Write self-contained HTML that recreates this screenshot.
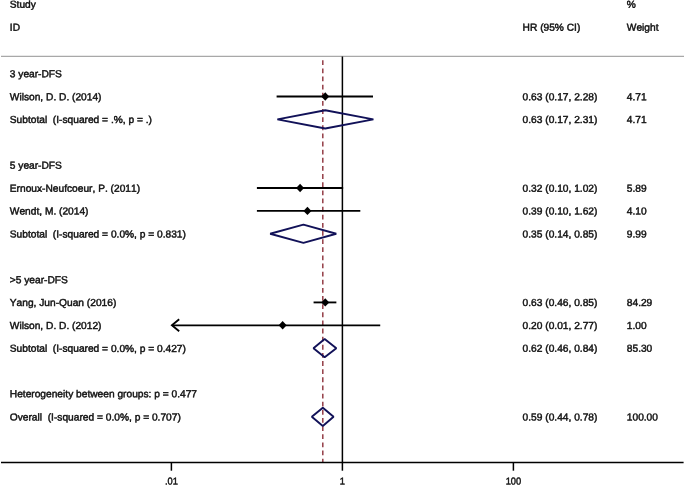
<!DOCTYPE html>
<html lang="en"><head><meta charset="utf-8"><title>Forest plot</title>
<style>
html,body{margin:0;padding:0;background:#fff;}
body{width:685px;height:486px;overflow:hidden;}
svg{display:block;}
svg text{font-family:"Liberation Sans",Arial,Helvetica,sans-serif;font-size:10.2px;fill:#111;stroke:#111;stroke-width:0.45px;font-kerning:none;white-space:pre;}
</style></head><body>
<svg width="685" height="486" viewBox="0 0 685 486">
<rect width="685" height="486" fill="#ffffff"/>
<line x1="1" y1="56.4" x2="684" y2="56.4" stroke="#a8a8a8" stroke-width="1.1"/>
<line x1="342.40" y1="56.4" x2="342.40" y2="462.50" stroke="#000" stroke-width="1.5"/>
<line x1="322.81" y1="60.3" x2="322.81" y2="462.50" stroke="#8c2f3a" stroke-width="1.4" stroke-dasharray="4.8 3.33"/>
<line x1="1" y1="462.50" x2="683.6" y2="462.50" stroke="#000" stroke-width="1.5"/>
<line x1="171.40" y1="462.50" x2="171.40" y2="470.70" stroke="#000" stroke-width="1.5"/>
<text transform="translate(171.40,484.6) rotate(0.03) scale(0.94,1)" x="0" y="0" text-anchor="middle" style="font-size:9.9px">.01</text>
<line x1="342.40" y1="462.50" x2="342.40" y2="470.70" stroke="#000" stroke-width="1.5"/>
<text transform="translate(342.40,484.6) rotate(0.03) scale(0.94,1)" x="0" y="0" text-anchor="middle" style="font-size:9.9px">1</text>
<line x1="513.40" y1="462.50" x2="513.40" y2="470.70" stroke="#000" stroke-width="1.5"/>
<text transform="translate(513.40,484.6) rotate(0.03) scale(0.94,1)" x="0" y="0" text-anchor="middle" style="font-size:9.9px">100</text>
<line x1="276.60" y1="96.50" x2="373.00" y2="96.50" stroke="#000" stroke-width="1.85"/>
<polygon points="321.24,96.50 325.24,92.30 329.24,96.50 325.24,100.70" fill="#000"/>
<line x1="256.90" y1="188.02" x2="343.14" y2="188.02" stroke="#000" stroke-width="1.85"/>
<polygon points="296.09,188.02 300.09,183.82 304.09,188.02 300.09,192.22" fill="#000"/>
<line x1="256.90" y1="210.90" x2="360.31" y2="210.90" stroke="#000" stroke-width="1.85"/>
<polygon points="303.44,210.90 307.44,206.70 311.44,210.90 307.44,215.10" fill="#000"/>
<line x1="313.57" y1="302.42" x2="336.37" y2="302.42" stroke="#000" stroke-width="1.85"/>
<polygon points="321.24,302.42 325.24,298.22 329.24,302.42 325.24,306.62" fill="#000"/>
<polyline points="179.20,319.30 171.90,325.30 179.20,331.30" fill="none" stroke="#000" stroke-width="1.85" stroke-linejoin="miter"/>
<line x1="171.90" y1="325.30" x2="380.23" y2="325.30" stroke="#000" stroke-width="1.85"/>
<polygon points="278.64,325.30 282.64,321.10 286.64,325.30 282.64,329.50" fill="#000"/>
<polygon points="277.40,119.38 325.24,110.28 373.39,119.38 325.24,128.48" fill="none" stroke="#111158" stroke-width="1.9" stroke-linejoin="bevel"/>
<polygon points="270.19,233.78 303.42,224.68 336.27,233.78 303.42,242.88" fill="none" stroke="#111158" stroke-width="1.9" stroke-linejoin="bevel"/>
<polygon points="313.47,348.18 324.65,339.08 336.33,348.18 324.65,357.28" fill="none" stroke="#111158" stroke-width="1.9" stroke-linejoin="bevel"/>
<polygon points="311.82,416.82 322.81,407.72 333.57,416.82 322.81,425.92" fill="none" stroke="#111158" stroke-width="1.9" stroke-linejoin="bevel"/>
<text transform="rotate(0.03 9.8 7.83)" x="9.8" y="7.83" xml:space="preserve">Study</text>
<text transform="rotate(0.03 626.8 7.83)" x="626.8" y="7.83">%</text>
<text transform="rotate(0.03 9.8 30.71)" x="9.8" y="30.71" xml:space="preserve">ID</text>
<text transform="rotate(0.03 522.6 30.71)" x="522.6" y="30.71">HR (95% CI)</text>
<text transform="rotate(0.03 626.8 30.71)" x="626.8" y="30.71">Weight</text>
<text transform="rotate(0.03 9.8 77.27)" x="9.8" y="77.27" xml:space="preserve">3 year-DFS</text>
<text transform="rotate(0.03 9.8 100.15)" x="9.8" y="100.15" xml:space="preserve">Wilson, D. D. (2014)</text>
<text transform="rotate(0.03 522.6 100.15)" x="522.6" y="100.15">0.63 (0.17, 2.28)</text>
<text transform="rotate(0.03 626.8 100.15)" x="626.8" y="100.15">4.71</text>
<text transform="rotate(0.03 9.8 123.03)" x="9.8" y="123.03" xml:space="preserve">Subtotal  (I-squared = .%, p = .)</text>
<text transform="rotate(0.03 522.6 123.03)" x="522.6" y="123.03">0.63 (0.17, 2.31)</text>
<text transform="rotate(0.03 626.8 123.03)" x="626.8" y="123.03">4.71</text>
<text transform="rotate(0.03 9.8 168.79)" x="9.8" y="168.79" xml:space="preserve">5 year-DFS</text>
<text transform="rotate(0.03 9.8 191.67)" x="9.8" y="191.67" xml:space="preserve">Ernoux-Neufcoeur, P. (2011)</text>
<text transform="rotate(0.03 522.6 191.67)" x="522.6" y="191.67">0.32 (0.10, 1.02)</text>
<text transform="rotate(0.03 626.8 191.67)" x="626.8" y="191.67">5.89</text>
<text transform="rotate(0.03 9.8 214.55)" x="9.8" y="214.55" xml:space="preserve">Wendt, M. (2014)</text>
<text transform="rotate(0.03 522.6 214.55)" x="522.6" y="214.55">0.39 (0.10, 1.62)</text>
<text transform="rotate(0.03 626.8 214.55)" x="626.8" y="214.55">4.10</text>
<text transform="rotate(0.03 9.8 237.43)" x="9.8" y="237.43" xml:space="preserve">Subtotal  (I-squared = 0.0%, p = 0.831)</text>
<text transform="rotate(0.03 522.6 237.43)" x="522.6" y="237.43">0.35 (0.14, 0.85)</text>
<text transform="rotate(0.03 626.8 237.43)" x="626.8" y="237.43">9.99</text>
<text transform="rotate(0.03 9.8 283.19)" x="9.8" y="283.19" xml:space="preserve">&gt;5 year-DFS</text>
<text transform="rotate(0.03 9.8 306.07)" x="9.8" y="306.07" xml:space="preserve">Yang, Jun-Quan (2016)</text>
<text transform="rotate(0.03 522.6 306.07)" x="522.6" y="306.07">0.63 (0.46, 0.85)</text>
<text transform="rotate(0.03 626.8 306.07)" x="626.8" y="306.07">84.29</text>
<text transform="rotate(0.03 9.8 328.95)" x="9.8" y="328.95" xml:space="preserve">Wilson, D. D. (2012)</text>
<text transform="rotate(0.03 522.6 328.95)" x="522.6" y="328.95">0.20 (0.01, 2.77)</text>
<text transform="rotate(0.03 626.8 328.95)" x="626.8" y="328.95">1.00</text>
<text transform="rotate(0.03 9.8 351.83)" x="9.8" y="351.83" xml:space="preserve">Subtotal  (I-squared = 0.0%, p = 0.427)</text>
<text transform="rotate(0.03 522.6 351.83)" x="522.6" y="351.83">0.62 (0.46, 0.84)</text>
<text transform="rotate(0.03 626.8 351.83)" x="626.8" y="351.83">85.30</text>
<text transform="rotate(0.03 9.8 397.19)" x="9.8" y="397.19" xml:space="preserve">Heterogeneity between groups: p = 0.477</text>
<text transform="rotate(0.03 9.8 420.47)" x="9.8" y="420.47" xml:space="preserve">Overall  (I-squared = 0.0%, p = 0.707)</text>
<text transform="rotate(0.03 522.6 420.47)" x="522.6" y="420.47">0.59 (0.44, 0.78)</text>
<text transform="rotate(0.03 626.8 420.47)" x="626.8" y="420.47">100.00</text>
</svg>
</body></html>
